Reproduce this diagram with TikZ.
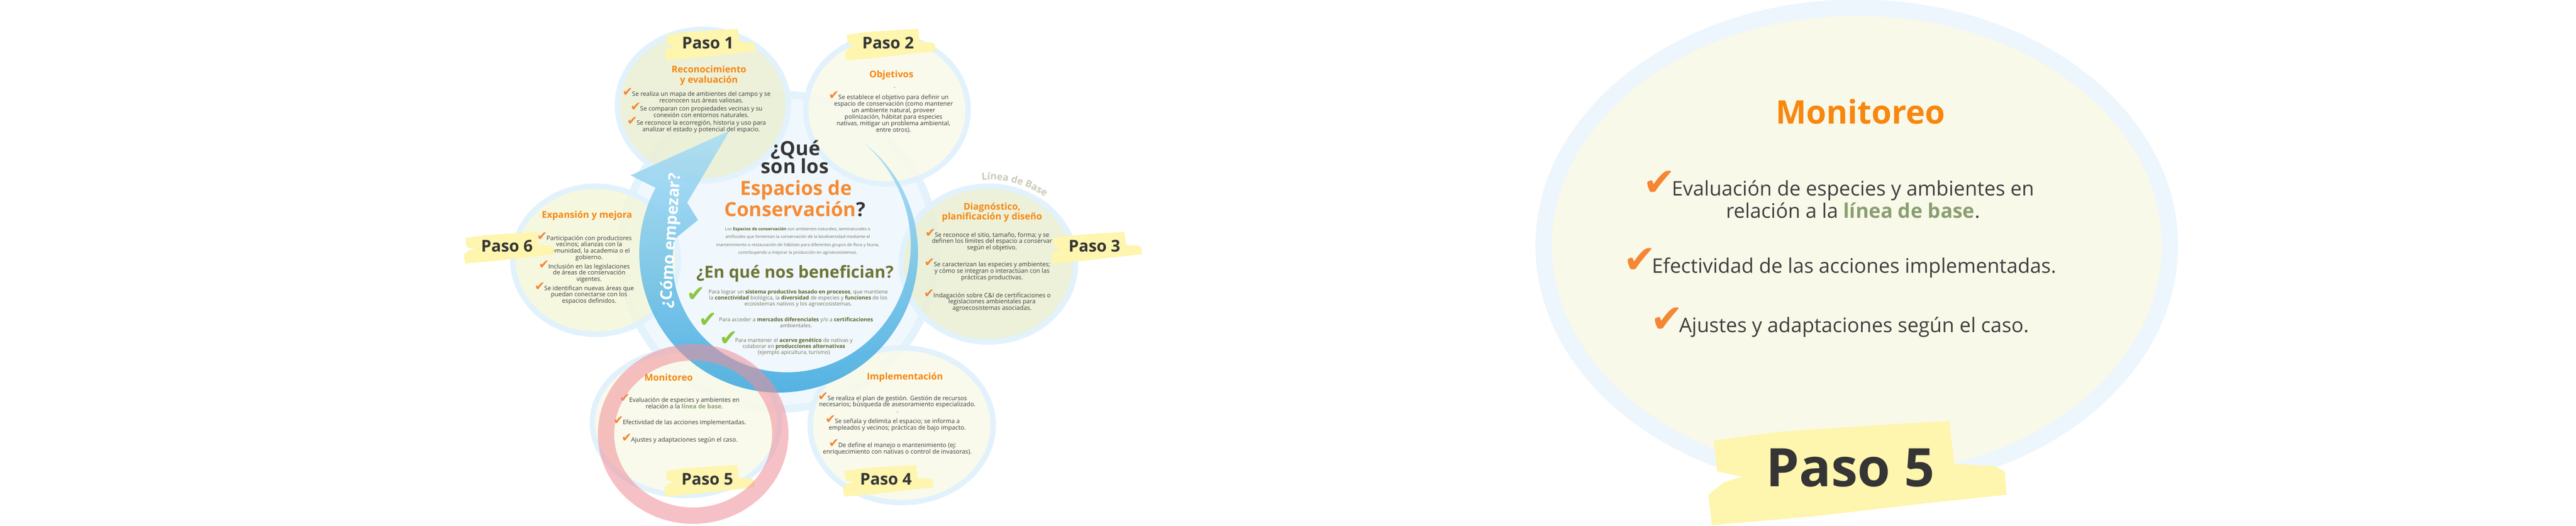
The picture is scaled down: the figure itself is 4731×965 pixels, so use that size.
\documentclass[tikz,border=0pt]{standalone}
\usepackage{fontspec}
\setmainfont{Open Sans}
\newfontfamily\checkfont{DejaVu Sans}
\usepackage{tikz}
\usetikzlibrary{decorations.text}

\definecolor{ringblue}{HTML}{E2F2FC}
\definecolor{fillgreen}{HTML}{EBEFD3}
\definecolor{fillpale}{HTML}{F9FAE8}
\definecolor{fillyellow}{HTML}{F4F6DA}
\definecolor{centerfill}{HTML}{F0F8FE}
\definecolor{centerring}{HTML}{E3F2FB}
\definecolor{arrowtop}{HTML}{A9DDF5}
\definecolor{arrowbot}{HTML}{3AA7DE}
\definecolor{pinkring}{HTML}{F08E99}
\definecolor{brushyellow}{HTML}{FEF5AE}
\definecolor{darktext}{HTML}{353535}
\definecolor{steporange}{HTML}{F7870F}
\definecolor{bigorange}{HTML}{F68B33}
\definecolor{oliveg}{HTML}{6E7435}
\definecolor{olivedark}{HTML}{5E6428}
\definecolor{bodygray}{HTML}{3E3E3E}
\definecolor{paragray}{HTML}{76745A}
\definecolor{sage}{HTML}{8A9E72}
\definecolor{basegray}{HTML}{C9CCB9}
\definecolor{tick}{HTML}{F58634}
\definecolor{tickgreen}{HTML}{8DC63F}
\definecolor{panelring}{HTML}{EDF6FC}
\definecolor{panelfill}{HTML}{F9F9E9}

% check marks hanging left of a centred line
\newcommand\okmark{\llap{\smash{\checkfont\fontsize{13}{13}\selectfont\textcolor{tick}{✔}}\kern-0.8pt}}
\newcommand\okbig{\llap{\smash{\checkfont\fontsize{41}{41}\selectfont\textcolor{tick}{✔}}\kern-4.5pt}}
\newcommand\boldolive[1]{\textbf{\textcolor{olivedark}{#1}}}
% yellow brush stroke behind a step label
\newcommand\pasobrush[3]{\fill[brushyellow, shift={(#1,#2)}, scale=#3]
  (-76,-15) -- (-40,-20) -- (20,-24) -- (55,-26) -- (58,-2) -- (80,-1) -- (86,2) -- (87,15)
  -- (40,20) -- (-20,27) -- (-77,32) -- (-79,15) -- (-70,8) -- (-60,5) -- (-74,2) -- cycle;}

\begin{document}
\begin{tikzpicture}[x=0.02cm, y=-0.02cm, every node/.style={inner sep=0pt, align=center}]
  \tikzstyle{disc}=[draw=ringblue, line width=0.2cm, fill opacity=0.85]
  \tikzstyle{stepbody}=[font=\fontsize{6.4}{6.8}\selectfont, text=bodygray]
  \tikzstyle{steptitle}=[font=\bfseries\fontsize{9.7}{10.8}\selectfont, text=steporange]
  \tikzstyle{pasolabel}=[font=\bfseries\fontsize{17}{17}\selectfont, text=darktext]
  \tikzstyle{heading}=[font=\bfseries\fontsize{20.5}{20.5}\selectfont, text=darktext]
  \tikzstyle{para}=[font=\fontsize{4.45}{8.25}\selectfont, text=paragray]
  \tikzstyle{benefit}=[font=\fontsize{5.6}{6.3}\selectfont, text=paragray]
  \tikzstyle{gcheck}=[font=\checkfont\fontsize{23}{23}\selectfont, text=tickgreen]
  \tikzstyle{panelbody}=[font=\fontsize{21}{23.3}\selectfont, text=bodygray]

  \fill[white] (0,0) rectangle (4731,965);
  \useasboundingbox (0,0) rectangle (4731,965);

  % enlarged step
  \draw[draw=panelring, fill=panelfill, line width=0.6cm] (3410,451) ellipse [x radius=575, y radius=437];

  % centre and the six steps
  \draw[draw=centerring, fill=centerfill, line width=0.28cm] (1430,462) circle [radius=289];
  \draw[disc, fill=fillgreen]  (1291,193) ellipse [x radius=157, y radius=139];
  \draw[disc, fill=fillpale]   (1629,202) ellipse [x radius=149, y radius=136];
  \draw[disc, fill=fillgreen]  (1815,485) ellipse [x radius=160, y radius=143];
  \draw[disc, fill=fillpale]   (1656,781) ellipse [x radius=168, y radius=142];
  \draw[disc, fill=fillpale]   (1260,776) ellipse [x radius=172, y radius=134];
  \draw[disc, fill=fillyellow] (1094,478) ellipse [x radius=152, y radius=136];

  \path[decorate, decoration={text along path,
      text={|\bfseries\fontsize{10.2}{12}\selectfont\color{basegray}|Línea de Base}}]
    ([shift={(1815,485)}]266:172 and 155) arc[start angle=266, end angle=330, x radius=172, y radius=155];

  % arrow round the centre
  \shade[top color=arrowtop, bottom color=arrowbot, fill opacity=0.85]
    plot[domain=308:568, samples=90] ({1430+256*cos(\x)}, {465+256*sin(\x)})
    -- (1158,322) -- (1340,240) -- (1262,372) -- (1282,404)
    -- plot[domain=548:308, samples=90] ({1430+(256-67*(\x-308)/252)*cos(\x)}, {465+(256-67*(\x-308)/252)*sin(\x)})
    -- cycle;
  \node[font=\bfseries\fontsize{16.8}{16.8}\selectfont, text=white, rotate=86] (como) at (1233,442) {¿Cómo empezar?};

  % centre texts
  \node[heading, anchor=base] (que) at (1461,285) {¿Qué};
  \node[heading, anchor=base] (sonlos) at (1460,318) {son los};
  \node[heading, anchor=base, text=bigorange] (espacios) at (1462,358) {Espacios de};
  \node[heading, anchor=base] (conserv) at (1460,397) {\textcolor{bigorange}{Conservación}?};
  \node[para] (defin) at (1465,443) {Los \boldolive{Espacios de conservación} son ambientes naturales, seminaturales o\\artificiales que fomentan la conservación de la biodiversidad mediante el\\mantenimiento o restauración de hábitats para diferentes grupos de flora y fauna,\\contribuyendo a mejorar la producción en agroecosistemas.};
  \node[heading, font=\bfseries\fontsize{17.4}{17.4}\selectfont, text=oliveg, anchor=base] (benef) at (1460,510) {¿En qué nos benefician?};
  \node[gcheck] (g1) at (1278,541) {✔};
  \node[benefit] (n1) at (1466,548) {Para lograr un \boldolive{sistema productivo basado en procesos}, que mantiene\\la \boldolive{conectividad} biológica, la \boldolive{diversidad} de especies y \boldolive{funciones} de los\\ecosistemas nativos y los agroecosistemas.};
  \node[gcheck] (g2) at (1300,588) {✔};
  \node[benefit] (n2) at (1462,592) {Para acceder a \boldolive{mercados diferenciales} y/o a \boldolive{certificaciones}\\ambientales.};
  \node[gcheck] (g3) at (1338,622) {✔};
  \node[benefit] (n3) at (1458,637) {Para mantener el \boldolive{acervo genético} de nativas y\\colaborar en \boldolive{producciones alternativas}\\(ejemplo apicultura, turismo)};

  % step 1
  \node[steptitle] (t1) at (1302,139) {Reconocimiento\\y evaluación};
  \node[stepbody] (p1a) at (1288,178) {\okmark Se realiza un mapa de ambientes del campo y se\\reconocen sus áreas valiosas.};
  \node[stepbody] (p1b) at (1288,205) {\okmark Se comparan con propiedades vecinas y su\\conexión con entornos naturales.};
  \node[stepbody] (p1c) at (1288,233) {\okmark Se reconoce la ecorregión, historia y uso para\\analizar el estado y potencial del espacio.};
  % step 2
  \node[steptitle, anchor=base] (t2) at (1637,142) {Objetivos};
  \node[stepbody] (dot2) at (1643,161) {.};
  \node[stepbody] (p2a) at (1641,209) {\okmark Se establece el objetivo para definir un\\espacio de conservación (como mantener\\un ambiente natural, proveer\\polinización, hábitat para especies\\nativas, mitigar un problema ambiental,\\entre otros).};
  % step 3
  \node[steptitle] (t3) at (1822,390) {Diagnóstico,\\planificación y diseño};
  \node[stepbody] (p3a) at (1822,444) {\okmark Se reconoce el sitio, tamaño, forma; y se\\definen los límites del espacio a conservar\\según el objetivo.};
  \node[stepbody] (p3b) at (1822,499) {\okmark Se caracterizan las especies y ambientes;\\y cómo se integran o interactúan con las\\prácticas productivas.};
  \node[stepbody] (p3c) at (1822,555) {\okmark Indagación sobre C\&I de certificaciones o\\legislaciones ambientales para\\agroecosistemas asociadas.};
  % step 4
  \node[steptitle, anchor=base] (t4) at (1662,697) {Implementación};
  \node[stepbody] (p4a) at (1648,738) {\okmark Se realiza el plan de gestión. Gestión de recursos\\necesarios; búsqueda de asesoramiento especializado.};
  \node[stepbody] (dot4) at (1648,757) {.};
  \node[stepbody] (p4b) at (1648,781) {\okmark Se señala y delimita el espacio; se informa a\\empleados y vecinos; prácticas de bajo impacto.};
  \node[stepbody] (p4c) at (1648,825) {\okmark De define el manejo o mantenimiento (ej:\\enriquecimiento con nativas o control de invasoras).};
  % step 5
  \node[steptitle, anchor=base] (t5) at (1228,699) {Monitoreo};
  \node[stepbody] (p5a) at (1257,740) {\okmark Evaluación de especies y ambientes en\\relación a la \textbf{\textcolor{sage}{línea de base}}.};
  \node[stepbody] (p5b) at (1257,777) {\okmark Efectividad de las acciones implementadas.};
  \node[stepbody] (p5c) at (1257,809) {\okmark Ajustes y adaptaciones según el caso.};
  % step 6
  \node[steptitle, anchor=base] (t6) at (1078,400) {Expansión y mejora};
  \node[stepbody] (p6a) at (1082,456) {\okmark Participación con productores\\vecinos; alianzas con la\\comunidad, la academia o el\\gobierno.};
  \node[stepbody] (p6b) at (1082,502) {\okmark Inclusión en las legislaciones\\de áreas de conservación\\vigentes.};
  \node[stepbody] (p6c) at (1082,542) {\okmark Se identifican nuevas áreas que\\puedan conectarse con los\\espacios definidos.};

  % step labels
  \pasobrush{1300}{79}{1}  \node[pasolabel] (lab1) at (1300,79) {Paso 1};
  \pasobrush{1631}{79}{1}  \node[pasolabel] (lab2) at (1631,79) {Paso 2};
  \pasobrush{2010}{452}{1} \node[pasolabel] (lab3) at (2010,452) {Paso 3};
  \pasobrush{1627}{880}{1} \node[pasolabel] (lab4) at (1627,880) {Paso 4};
  \pasobrush{1299}{880}{1} \node[pasolabel] (lab5) at (1299,880) {Paso 5};
  \pasobrush{931}{452}{1}  \node[pasolabel] (lab6) at (931,452) {Paso 6};

  % ring marking the current step
  \draw[draw=pinkring, draw opacity=0.55, line width=0.6cm] (1273,797) ellipse [x radius=160, y radius=150];

  % enlarged step texts
  \node[font=\bfseries\fontsize{34}{34}\selectfont, text=steporange] (bigtitle) at (3417,205) {Monitoreo};
  \node[panelbody] (big1) at (3403,366) {\okbig Evaluación de especies y ambientes en\\relación a la \textbf{\textcolor{sage}{línea de base}}.};
  \node[panelbody] (big2) at (3405,492) {\okbig Efectividad de las acciones implementadas.};
  \node[panelbody] (big3) at (3405,601) {\okbig Ajustes y adaptaciones según el caso.};
  \pasobrush{3398}{859}{3.3}
  \node[pasolabel, font=\bfseries\fontsize{55.5}{55.5}\selectfont] (bigpaso) at (3398,859) {Paso 5};
\end{tikzpicture}
\end{document}
